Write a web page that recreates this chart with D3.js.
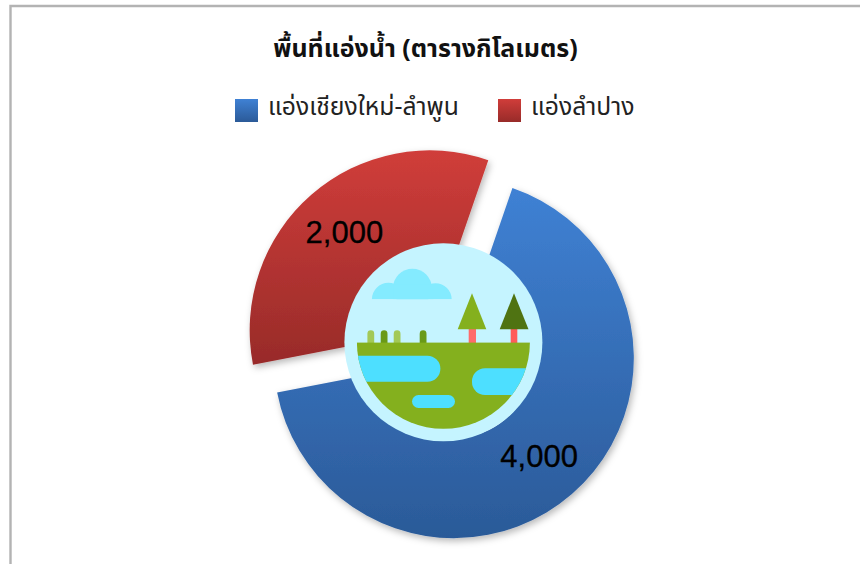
<!DOCTYPE html>
<html><head><meta charset="utf-8">
<script src="https://cdn.jsdelivr.net/npm/d3@7"></script>
<style>html,body{margin:0;padding:0;background:#fff}svg{display:block}</style>
</head><body><svg id="c" width="860" height="564"></svg>
<script>
const titleText = "พื้นที่แอ่งน้ำ (ตารางกิโลเมตร)";
const categories = ["แอ่งเชียงใหม่-ลำพูน", "แอ่งลำปาง"];
const values = [4000, 2000];
const gradientStops = [["#3f81d4", "#2b5a98"], ["#d03d3a", "#982b29"]];

const thaiFont = "'Noto Sans Thai','Noto Sans','Open Sans','DejaVu Sans',sans-serif";
const svg = d3.select("#c");
const defs = svg.append("defs");

const f = defs.append("filter").attr("id","shadow").attr("x","-20%").attr("y","-20%").attr("width","140%").attr("height","140%");
f.append("feDropShadow").attr("dx",2).attr("dy",3).attr("stdDeviation",3.5).attr("flood-color","#000").attr("flood-opacity",0.28);

gradientStops.forEach((s,i)=>{
  const g = defs.append("linearGradient").attr("id","g"+i).attr("x1",0).attr("y1",0).attr("x2",0).attr("y2",1);
  g.append("stop").attr("offset",0).attr("stop-color",s[0]);
  g.append("stop").attr("offset",1).attr("stop-color",s[1]);
});

// frame
svg.append("path").attr("d","M10.5,564V6H860").attr("fill","none").attr("stroke","#b3b3b3").attr("stroke-width",2.4);

// title
svg.append("text").attr("x",425.5).attr("y",57).attr("text-anchor","middle")
  .attr("font-family",thaiFont).attr("font-weight","bold").attr("font-size",25).attr("fill","#111").text(titleText);

// legend
const legendX = d3.scaleOrdinal().domain(categories).range([235,498]);
categories.forEach((c,i)=>{
  const x = legendX(c);
  svg.append("rect").attr("x",x).attr("y",99).attr("width",23).attr("height",23).attr("fill",`url(#g${i})`);
  svg.append("text").attr("x",x+33).attr("y",115).attr("font-family",thaiFont).attr("font-size",24.7).attr("fill","#222").text(c);
});

// exploded doughnut
const cx = 441.75, cy = 344.25, explode = 18.4, outerR = 180, innerR = 80;
const start = 19*Math.PI/180;
const pie = d3.pie().sort(null).startAngle(start).endAngle(start+2*Math.PI);
const arc = d3.arc().innerRadius(innerR).outerRadius(outerR);
const slices = svg.append("g").attr("transform",`translate(${cx},${cy})`);
pie(values).forEach((d,i)=>{
  const mid = (d.startAngle+d.endAngle)/2;
  const g = slices.append("g").attr("transform",`translate(${explode*Math.sin(mid)},${-explode*Math.cos(mid)})`);
  g.append("path").attr("d",arc(d)).attr("fill",`url(#g${i})`).attr("filter","url(#shadow)");
});

// centre illustration
const ill = svg.append("g").attr("transform","translate(443.4,342.3)");
ill.append("circle").attr("r",99).attr("fill","#c5f4ff");
defs.append("clipPath").attr("id","ground").append("path").attr("d",d3.arc()({innerRadius:0,outerRadius:86.5,startAngle:Math.PI/2,endAngle:Math.PI*1.5}));
ill.append("g").attr("fill","#84ebff").call(g=>{
  g.append("circle").attr("cx",-31).attr("cy",-54).attr("r",19.5);
  g.append("path").attr("d","M-71.5,-43A16.5,16.5 0 0 1 -38.5,-43ZM-24,-43A16,16 0 0 1 8.3,-43Z");
  g.append("rect").attr("x",-50).attr("y",-58).attr("width",40).attr("height",15);
});
ill.append("rect").attr("x",-80).attr("y",-43).attr("width",100).attr("height",18).attr("fill","#c5f4ff");
[[-76,"#a3c957"],[-62.7,"#6a9a18"],[-49.7,"#a3c957"],[-23.7,"#6a9a18"]].forEach(b=>{
  ill.append("rect").attr("x",b[0]).attr("y",-12).attr("width",6.8).attr("height",16).attr("rx",3.4).attr("fill",b[1]);
});
ill.append("rect").attr("x",25.3).attr("y",-14).attr("width",7.3).attr("height",15).attr("fill","#ff6b6b");
ill.append("rect").attr("x",67.3).attr("y",-14).attr("width",6.6).attr("height",15).attr("fill","#ff5a5a");
ill.append("path").attr("d","M28.6,-49L42.9,-13H14.3Z").attr("fill","#84b01e");
ill.append("path").attr("d","M70.6,-49L85.1,-13H56.3Z").attr("fill","#4f7312");
const gr = ill.append("g").attr("clip-path","url(#ground)");
gr.append("rect").attr("x",-90).attr("y",0).attr("width",180).attr("height",90).attr("fill","#84b01e");
gr.append("rect").attr("x",-110).attr("y",13.4).attr("width",107).attr("height",26).attr("rx",13).attr("fill","#4ddfff");
gr.append("rect").attr("x",28.6).attr("y",26).attr("width",90).attr("height",26.7).attr("rx",13).attr("fill","#4ddfff");
gr.append("rect").attr("x",-31.4).attr("y",52.7).attr("width",43).attr("height",13).attr("rx",6.5).attr("fill","#4ddfff");

// value labels at slice centroids
pie(values).forEach(d=>{
  const mid = (d.startAngle+d.endAngle)/2, c = arc.centroid(d);
  svg.append("text")
    .attr("x",cx+c[0]+explode*Math.sin(mid)).attr("y",cy+c[1]-explode*Math.cos(mid)+11)
    .attr("text-anchor","middle").attr("font-family","'Liberation Sans',Arial,sans-serif")
    .attr("font-size",31).attr("fill","#000").attr("stroke","#000").attr("stroke-width",0.3).text(d3.format(",")(d.data));
});
</script></body></html>
